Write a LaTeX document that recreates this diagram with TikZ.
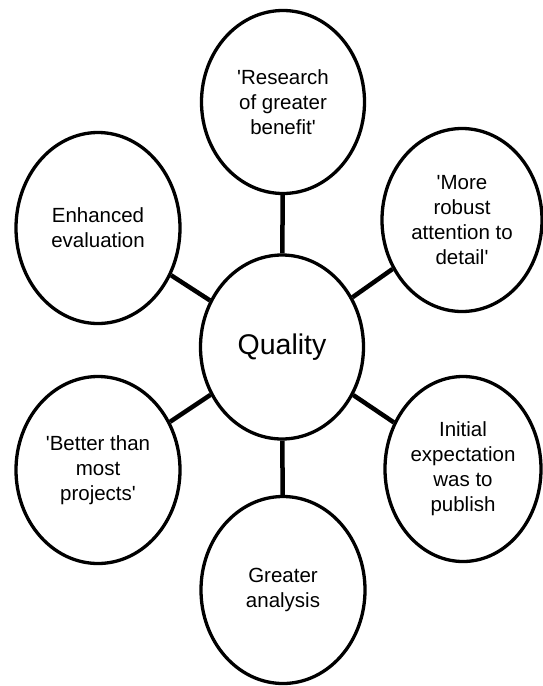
\documentclass[tikz,border=0pt]{standalone}
\usepackage{fontspec}
\setmainfont{Liberation Sans}
\usetikzlibrary{shapes.geometric}
\newcommand{\sq}{\textquotesingle}
\begin{document}
\begin{tikzpicture}[x=1pt,y=-1pt,
  bubble/.style={ellipse, draw=black, line width=3.3pt, fill=white,
    inner sep=0pt, align=center, font=\fontsize{20.5}{25}\selectfont},
  link/.style={draw=black, line width=4.5pt}]
  \useasboundingbox (0,0) rectangle (543,686);

  % central topic
  \node[bubble, minimum width=163pt, minimum height=184pt,
        font=\fontsize{28.5}{32}\selectfont] (q) at (282,347) {Quality};

  % surrounding themes
  \node[bubble, minimum width=163pt, minimum height=183pt] (top) at (283,102)
    {\sq Research\\of greater\\benefit\sq};
  \node[bubble, minimum width=164pt, minimum height=191pt] (ul) at (98,228)
    {Enhanced\\evaluation};
  \node[bubble, minimum width=160pt, minimum height=183pt] (ur) at (462,220)
    {\sq More\\robust\\attention to\\detail\sq};
  \node[bubble, minimum width=164pt, minimum height=187pt] (ll) at (98,470)
    {\sq Better than\\most\\projects\sq};
  \node[bubble, minimum width=156pt, minimum height=185pt] (lr) at (463,469)
    {Initial\\expectation\\was to\\publish};
  \node[bubble, minimum width=164pt, minimum height=187pt] (bot) at (283,590)
    {Greater\\analysis};

  % spokes
  \foreach \n in {top,ul,ur,ll,lr,bot}
    \draw[link] (q) -- (\n);
\end{tikzpicture}
\end{document}
